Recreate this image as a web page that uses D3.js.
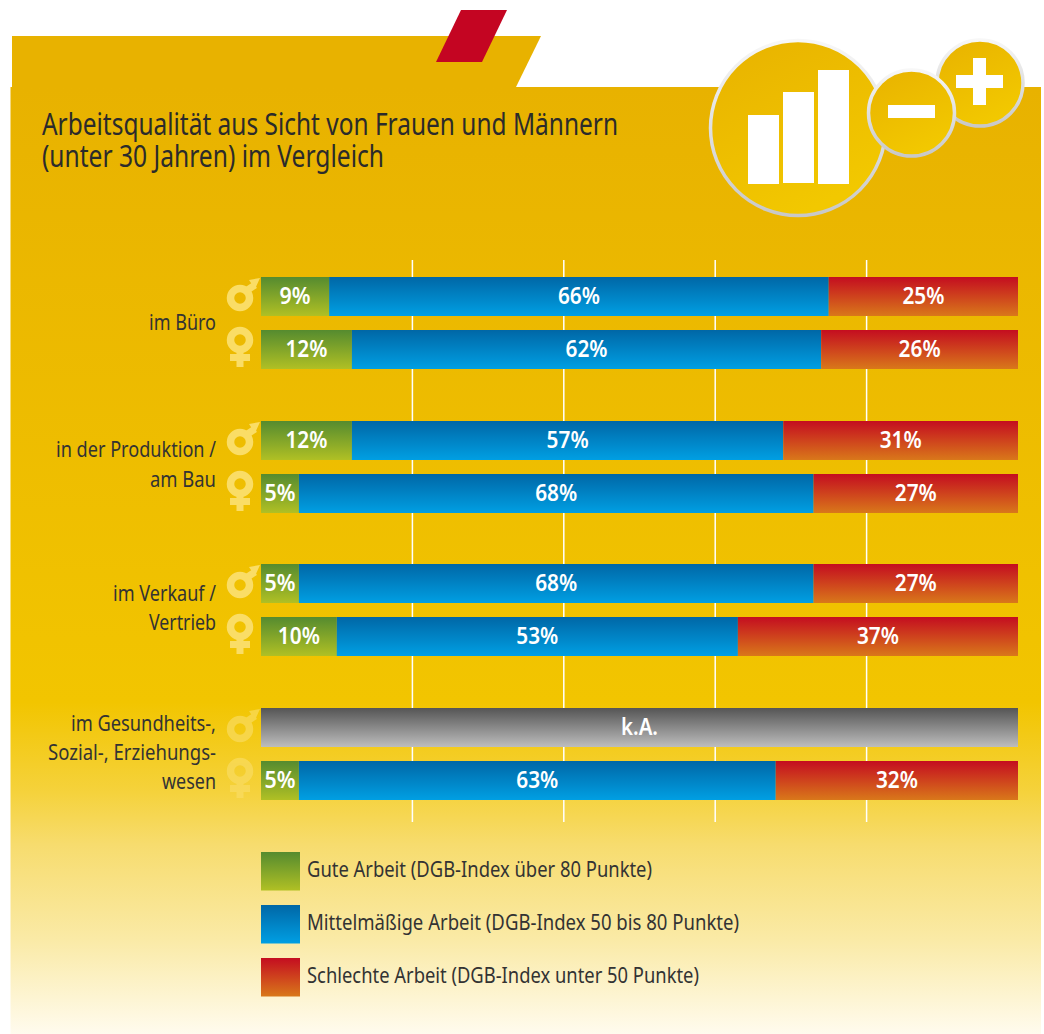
<!DOCTYPE html>
<html lang="de">
<head>
<meta charset="utf-8">
<title>Arbeitsqualität</title>
<script src="https://cdn.jsdelivr.net/npm/d3@7"></script>
<style>
html,body{margin:0;padding:0;background:#fff;overflow:hidden}
svg{display:block}
text{font-family:"Noto Sans",sans-serif}
</style>
</head>
<body>
<div id="chart"></div>
<script>
const titleLines = ["Arbeitsqualität aus Sicht von Frauen und Männern", "(unter 30 Jahren) im Vergleich"];
const categories = ["im Büro", "in der Produktion / am Bau", "im Verkauf / Vertrieb", "im Gesundheits-, Sozial-, Erziehungs-wesen"];
const categoryLines = [["im Büro"], ["in der Produktion /", "am Bau"], ["im Verkauf /", "Vertrieb"], ["im Gesundheits-,", "Sozial-, Erziehungs-", "wesen"]];
const genders = ["m", "f"];
const goodValues = [9, 12, 12, 5, 5, 10, null, 5];
const midValues = [66, 62, 57, 68, 68, 53, null, 63];
const badValues = [25, 26, 31, 27, 27, 37, null, 32];
const seriesNames = ["Gute Arbeit (DGB-Index über 80 Punkte)", "Mittelmäßige Arbeit (DGB-Index 50 bis 80 Punkte)", "Schlechte Arbeit (DGB-Index unter 50 Punkte)"];
const missingLabel = "k.A.";
const gridTicks = [20, 40, 60, 80];

const W = 1044, H = 1034;
const svg = d3.select("#chart").append("svg").attr("width", W).attr("height", H);
const defs = svg.append("defs");
function grad(id, stops, x2 = 0, y2 = 1) {
  const g = defs.append("linearGradient").attr("id", id).attr("x1", 0).attr("y1", 0).attr("x2", x2).attr("y2", y2);
  stops.forEach(s => g.append("stop").attr("offset", s[0]).attr("stop-color", s[1]));
}
grad("bg", [[0, "#E8B200"], [0.65, "#F2C500"], [0.745, "#F5D23C"], [0.8, "#F7DC6E"], [0.9, "#FAEAA6"], [1, "#FFFBEE"]]);
grad("gGood", [[0, "#558B2F"], [1, "#B0C024"]]);
grad("gMid", [[0, "#0067A6"], [1, "#009FE3"]]);
grad("gBad", [[0, "#C40D20"], [1, "#D9781A"]]);
grad("gNone", [[0, "#555555"], [1, "#BDBDBD"]]);
grad("gIcon", [[0, "#E8B200"], [1, "#F2C800"]], 0.5, 1);
grad("gRing", [[0, "#F7F7F7"], [1, "#C8C8C8"]]);

// Page shape
const line = d3.line();
svg.append("path").attr("d", line([[12, 36], [541, 36], [516, 87], [12, 87]]) + "Z").attr("fill", "#E8B200");
svg.append("rect").attr("x", 10.5).attr("y", 87).attr("width", 1030.5).attr("height", 947).attr("fill", "url(#bg)");
svg.append("path").attr("d", line([[461, 10], [507, 10], [482, 62], [436, 62]]) + "Z").attr("fill", "#C40522");

// Icons
function badge(cx, cy, r) {
  svg.append("circle").attr("cx", cx).attr("cy", cy).attr("r", r - 2).attr("fill", "url(#gIcon)")
    .attr("stroke", "url(#gRing)").attr("stroke-width", 3.5);
}
function block(x, y, w, h) {
  svg.append("rect").attr("x", x).attr("y", y).attr("width", w).attr("height", h).attr("fill", "#fff");
}
badge(980, 83, 45);
block(956, 75, 47, 13); block(973, 58, 13, 47);
badge(798, 128, 89.5);
block(748, 115, 31, 69); block(783, 92, 31, 91); block(818, 70, 31, 114);
badge(911.5, 113, 45);
block(888, 105, 47, 13);

// Title: one text element, two lines
svg.append("text").attr("class", "title").attr("font-size", 30).attr("fill", "#2b2b2b")
  .selectAll("tspan").data(titleLines).join("tspan")
  .attr("x", 42).attr("y", (d, i) => 135 + i * 32)
  .attr("textLength", (d, i) => [576, 342][i]).attr("lengthAdjust", "spacingAndGlyphs").text(d => d);

// Scales
const x = d3.scaleLinear().domain([0, 100]).range([261, 1018]);
const groupY = d3.scalePoint().domain(categories).range([277, 708]);
const genderY = d3.scaleOrdinal().domain(genders).range([0, 53]);
const rowTop = d => Math.round(groupY(d.c) + genderY(d.g));
const barH = 39;

// Grid
const axis = d3.axisBottom(x).tickValues(gridTicks).tickSize(562).tickFormat("").offset(0);
const grid = svg.append("g").attr("transform", "translate(0,260)").call(axis);
grid.select(".domain").remove();
grid.selectAll("line").attr("stroke", "#fff").attr("stroke-width", 1.5);

// Rows
const rows = categories.flatMap((c, ci) => genders.map((g, gi) => {
  const idx = ci * 2 + gi;
  return { c, g, idx, good: goodValues[idx], mid: midValues[idx], bad: badValues[idx] };
}));
const rowG = svg.selectAll("g.row").data(rows).join("g").attr("class", "row")
  .attr("transform", d => `translate(0,${rowTop(d)})`);

const labelStyle = s => s.attr("fill", "#fff").attr("font-size", 23).attr("font-weight", 600)
  .attr("text-anchor", "middle").attr("y", 27);

rowG.each(function (d) {
  const g = d3.select(this);
  if (d.good === null) {
    g.append("rect").attr("x", x(0)).attr("width", x(100) - x(0)).attr("height", barH).attr("fill", "url(#gNone)");
    g.append("text").call(labelStyle).attr("x", x(50)).attr("textLength", 37).attr("lengthAdjust", "spacingAndGlyphs").text(missingLabel);
    return;
  }
  let acc = 0;
  [[d.good, "gGood"], [d.mid, "gMid"], [d.bad, "gBad"]].forEach(([v, fill]) => {
    g.append("rect").attr("x", x(acc)).attr("width", x(acc + v) - x(acc)).attr("height", barH).attr("fill", `url(#${fill})`);
    g.append("text").call(labelStyle).attr("x", x(acc + v / 2))
      .attr("textLength", String(v).length === 1 ? 31 : 42).attr("lengthAdjust", "spacingAndGlyphs").text(v + "%");
    acc += v;
  });
});

// Gender symbols
rows.forEach(d => {
  const g = svg.append("g").attr("transform", `translate(240,${rowTop(d)})`)
    .attr("fill", "none").attr("stroke", "#FADD66").attr("opacity", d.idx >= 6 ? 0.65 : 1);
  if (d.g === "m") {
    g.append("circle").attr("cy", 21).attr("r", 9.5).attr("stroke-width", 7.5);
    g.append("path").attr("d", "M6,14L15,8").attr("stroke-width", 7);
    g.append("path").attr("d", "M9,3L20,1L15,12Z").attr("fill", "#FADD66").attr("stroke", "none");
  } else {
    g.append("circle").attr("cy", 10).attr("r", 9.5).attr("stroke-width", 7.5);
    g.append("path").attr("d", "M0,20V37").attr("stroke-width", 7);
    g.append("path").attr("d", "M-10,27.5H10").attr("stroke-width", 7);
  }
});

// Category labels
const catBase = [[330], [457, 487], [601, 630], [731, 760, 789]];
const catWidth = [[67], [160, 66], [103, 67], [145, 168, 54]];
categoryLines.forEach((lines, i) => lines.forEach((t, j) => {
  svg.append("text").attr("x", 216).attr("y", catBase[i][j]).attr("text-anchor", "end")
    .attr("font-size", 21).attr("fill", "#333")
    .attr("textLength", catWidth[i][j]).attr("lengthAdjust", "spacingAndGlyphs").text(t);
}));

// Legend
const legendFills = ["gGood", "gMid", "gBad"];
const legendWidth = [345, 432, 392];
const legendY = d3.scalePoint().domain(seriesNames).range([852, 958]);
const lg = svg.selectAll("g.lg").data(seriesNames).join("g").attr("class", "lg")
  .attr("transform", d => `translate(261,${legendY(d)})`);
lg.append("rect").attr("width", 39).attr("height", 38.5).attr("fill", (d, i) => `url(#${legendFills[i]})`);
lg.append("text").attr("x", 46).attr("y", 25).attr("font-size", 21).attr("fill", "#333")
  .attr("textLength", (d, i) => legendWidth[i]).attr("lengthAdjust", "spacingAndGlyphs").text(d => d);
</script>
</body>
</html>
